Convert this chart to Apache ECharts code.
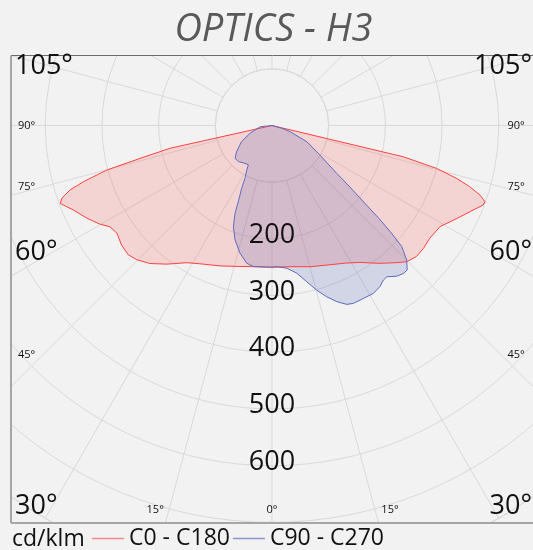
<!DOCTYPE html>
<html><head><meta charset="utf-8">
<script src="https://cdn.jsdelivr.net/npm/echarts@6/dist/echarts.min.js"></script>
<style>html,body{margin:0;padding:0;background:#f2f2f2;}#c{width:533px;height:550px;}</style>
</head><body><div id="c"></div>
<script>
// ---- data (gamma angle in degrees from nadir, intensity in cd/klm) ----
const c0Gamma   = [0, 7.3, 15.1, 22.6, 28.5, 32.7, 38.1, 42.3, 44.7, 47.8, 50.9, 54.5, 59, 63.3, 66.5, 69.4, 70.3, 71.5, 72.8, 74, 75.4, 76.6, 90];
const c0Values  = [250, 251, 258, 266, 276, 287, 309, 327, 338, 344, 344, 342, 346, 365, 381, 398, 399, 387, 365, 339, 300, 238, 0];
const c180Gamma = [0, 7.5, 12.8, 20.3, 27.5, 31.9, 37.2, 41.5, 45.2, 48, 51.5, 55.2, 58, 60.2, 63.4, 67, 69.8, 70.9, 72.3, 73.4, 74.9, 76, 77.4, 90];
const c180Values= [250, 251, 255, 264, 275, 285, 307, 325, 336, 341, 339, 333, 337, 350, 365, 381, 398, 392, 374, 347, 302, 240, 184, 0];
const c90Gamma  = [0, 1.9, 5.9, 9.5, 12.5, 15.2, 17.7, 20.2, 22.7, 24.6, 27.9, 31.1, 33.8, 35.8, 37.2, 39.6, 41.6, 43.1, 45, 47, 48, 49, 50, 51, 52.6, 53.5, 58.4, 65, 71, 74, 90];
const c90Values = [250, 249, 253, 264, 282, 301, 317, 331, 342, 345, 345, 346, 342, 336, 335, 345, 349, 349, 336, 313, 283, 250, 215, 190, 158, 142, 99, 68, 34, 18, 0];
const c270Gamma = [0, 7.5, 10.4, 14.1, 17.9, 20.9, 22.8, 24, 25.8, 27.1, 29.6, 31, 35.5, 43, 48.4, 53.4, 62, 70.5, 84, 90];
const c270Values= [250, 251, 247, 232, 212, 191, 168, 145, 123, 105, 90, 81, 82, 87, 87, 78, 61, 41, 21, 0];
const seriesNames = ['C0 - C180', 'C90 - C270'];
const radiusLabels = [200, 300, 400, 500, 600];
const titleText = 'OPTICS - H3';
const unitText = 'cd/klm';
const bigAngleLabels = ['105°', '60°', '30°'];
const smallSideLabels = ['90°', '75°', '45°'];
const smallBottomLabels = ['15°', '0°', '15°'];

// ---- layout ----
const CX = 272, CY = 125.5, SCALE = 0.567, RMAX = 800;
const ROUT = RMAX * SCALE;
const BOX = {l: 11, t: 55.5, r: 534, b: 523};
const FONT = '"Open Sans", "Noto Sans", sans-serif';

function buildCurve(rightG, rightV, leftG, leftV) {
  const pts = [];
  for (let i = 0; i < rightG.length; i++) pts.push([rightV[i], rightG[i]]);
  for (let i = leftG.length - 1; i >= 0; i--) pts.push([leftV[i], 360 - leftG[i]]);
  return pts;
}

const chart = echarts.init(document.getElementById('c'), null, {renderer: 'canvas'});
const gridColor = '#d9d9d9';

const graphics = [];
// masks outside plot box
graphics.push({type: 'rect', z: 50, shape: {x: 0, y: 0, width: 533, height: BOX.t}, style: {fill: '#f2f2f2'}, silent: true});
graphics.push({type: 'rect', z: 50, shape: {x: 0, y: BOX.b, width: 533, height: 550 - BOX.b}, style: {fill: '#f2f2f2'}, silent: true});
graphics.push({type: 'rect', z: 50, shape: {x: 0, y: 0, width: BOX.l, height: 550}, style: {fill: '#f2f2f2'}, silent: true});
// box borders
graphics.push({type: 'line', z: 60, shape: {x1: BOX.l, y1: BOX.t, x2: BOX.r, y2: BOX.t}, style: {stroke: '#6b6b6b', lineWidth: 1}, silent: true});
graphics.push({type: 'line', z: 60, shape: {x1: BOX.l, y1: BOX.t, x2: BOX.l, y2: BOX.b}, style: {stroke: '#a6a6a6', lineWidth: 2}, silent: true});
graphics.push({type: 'line', z: 60, shape: {x1: BOX.l, y1: BOX.b, x2: BOX.r, y2: BOX.b}, style: {stroke: '#a6a6a6', lineWidth: 2}, silent: true});

function txt(t, x, y, size, align, color) {
  return {type: 'text', z: 100, silent: true,
    style: {text: t, x: x, y: y, font: size + 'px ' + FONT, fill: color || '#111', align: align, verticalAlign: 'middle'}};
}
// title
graphics.push({type: 'text', z: 100, silent: true, style: {text: titleText, x: 273.5, y: 30, font: 'italic 38px ' + FONT, fill: '#595959', align: 'center', verticalAlign: 'middle'}});
// big corner angle labels
const bigY = [66.5, 252.5, 506];
bigAngleLabels.forEach((t, i) => {
  graphics.push(txt(t, 15, bigY[i], 27, 'left'));
  graphics.push(txt(t, 532, bigY[i], 27, 'right'));
});
const smallY = [125.8, 187, 354.7];
smallSideLabels.forEach((t, i) => {
  graphics.push(txt(t, 18, smallY[i], 11, 'left'));
  graphics.push(txt(t, 507.5, smallY[i], 11, 'left'));
});
const bottomX = [155.2, 272, 390];
smallBottomLabels.forEach((t, i) => graphics.push(txt(t, bottomX[i], 510, 11, 'center')));
// unit text
graphics.push(txt(unitText, 12, 539, 23, 'left'));

const option = {
  backgroundColor: '#f2f2f2',
  animation: false,
  polar: [
    {center: [CX, CY], radius: [100 * SCALE, ROUT]},
    {center: [CX, CY], radius: ROUT}
  ],
  angleAxis: [
    {polarIndex: 0, type: 'value', min: 0, max: 360, interval: 15, startAngle: 270, clockwise: false,
     axisLine: {show: true, lineStyle: {color: gridColor, width: 1}}, axisTick: {show: false}, axisLabel: {show: false},
     splitLine: {show: true, lineStyle: {color: gridColor, width: 1}}},
    {polarIndex: 1, type: 'value', min: 0, max: 360, interval: 15, startAngle: 270, clockwise: false,
     axisLine: {show: false}, axisTick: {show: false}, axisLabel: {show: false}, splitLine: {show: false}}
  ],
  radiusAxis: [
    {polarIndex: 0, type: 'value', min: 100, max: RMAX, interval: 100,
     axisLine: {show: false}, axisTick: {show: false}, axisLabel: {show: false},
     splitLine: {show: true, lineStyle: {color: gridColor, width: 1}}},
    {polarIndex: 1, type: 'value', min: 0, max: RMAX, interval: 100, z: 20,
     axisLine: {show: false}, axisTick: {show: false}, splitLine: {show: false},
     axisLabel: {show: true, margin: 0, align: 'center', verticalAlign: 'bottom', lineHeight: 7,
       fontSize: 27, fontFamily: FONT, color: '#111',
       formatter: v => radiusLabels.indexOf(v) >= 0 ? String(v) : ''}}
  ],
  legend: {
    left: 92, top: 527, padding: 0, itemGap: 3, itemWidth: 32, itemHeight: 1.5, icon: 'rect', z: 100,
    textStyle: {fontSize: 23, fontFamily: FONT, color: '#111'},
    data: [
      {name: seriesNames[0], itemStyle: {color: '#f08a8a'}},
      {name: seriesNames[1], itemStyle: {color: '#8a96cf'}}
    ]
  },
  graphic: graphics,
  series: [
    {name: seriesNames[0], type: 'line', coordinateSystem: 'polar', polarIndex: 1, symbol: 'none', smooth: false,
     lineStyle: {color: '#ff4040', width: 1}, itemStyle: {color: '#ff4040'},
     areaStyle: {color: 'rgba(255,70,70,0.25)'}, data: buildCurve(c0Gamma, c0Values, c180Gamma, c180Values)},
    {name: seriesNames[1], type: 'line', coordinateSystem: 'polar', polarIndex: 1, symbol: 'none', smooth: false,
     lineStyle: {color: '#5b6cc0', width: 1}, itemStyle: {color: '#5b6cc0'},
     areaStyle: {color: 'rgba(60,80,170,0.25)'}, data: buildCurve(c90Gamma, c90Values, c270Gamma, c270Values)}
  ]
};
chart.setOption(option);
</script></body></html>
